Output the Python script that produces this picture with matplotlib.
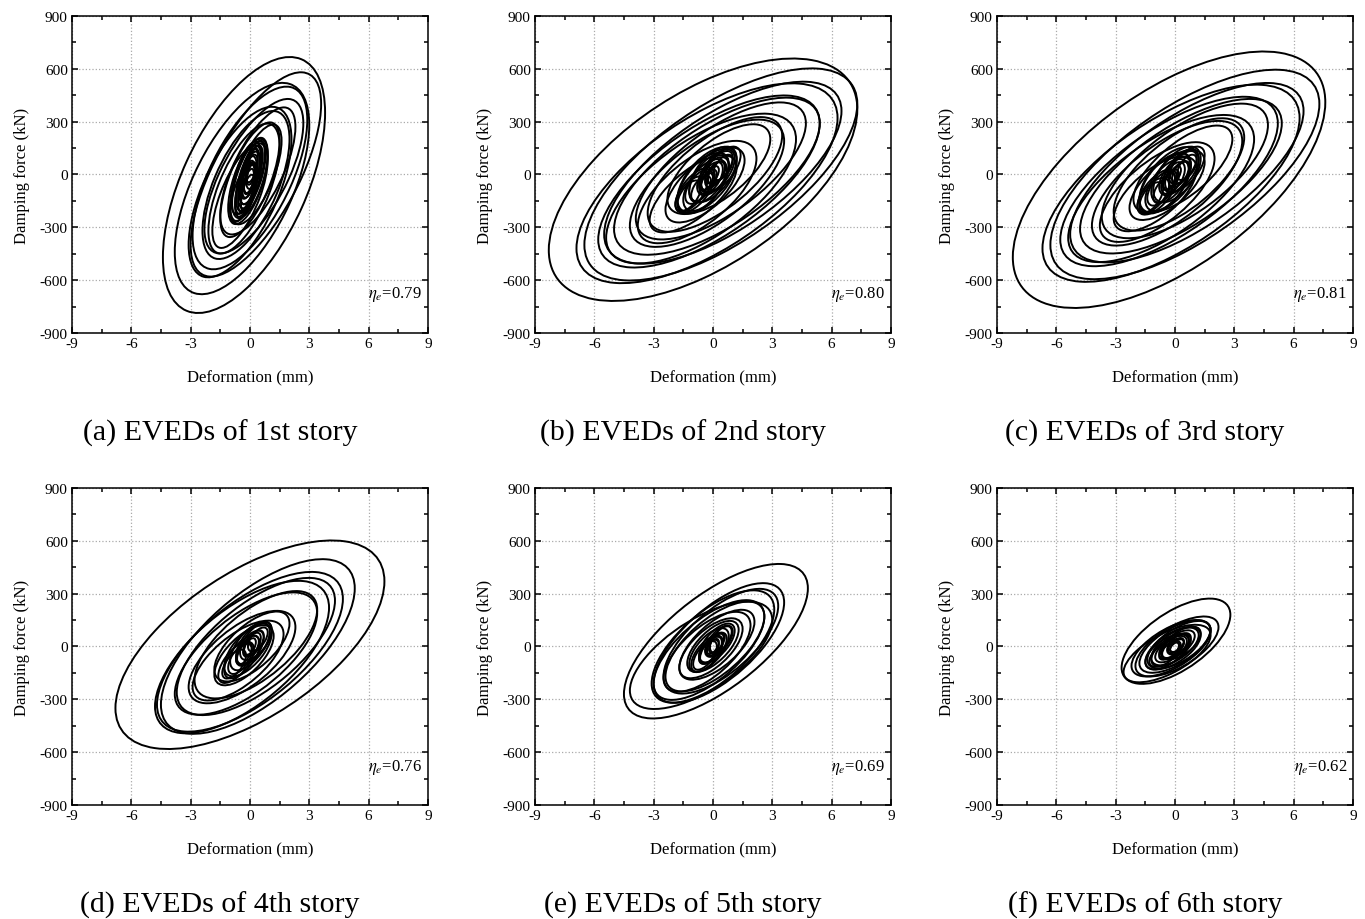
import matplotlib
matplotlib.use('Agg')
import matplotlib.pyplot as plt
from matplotlib.patches import Circle
from matplotlib.transforms import Affine2D
from matplotlib.ticker import MultipleLocator

plt.rcParams['font.family'] = ['Liberation Serif', 'DejaVu Serif']
plt.rcParams['mathtext.fontset'] = 'stix'
plt.rcParams['axes.unicode_minus'] = False

# one entry per hysteresis loop:
# (centre deformation, centre force, deformation amplitude,
#  force at peak deformation, force at zero deformation)
loops_1st = [
    (-0.3, -60, 4.1, 410, 600), (0.3, 0, 3.3, 400, 420), (-0.4, -80, 3.4, 360, 480),
    (0.0, -20, 2.9, 330, 400), (-0.5, -100, 2.6, 300, 380), (0.2, -10, 2.5, 300, 320),
    (-0.2, -60, 2.2, 260, 330), (0.4, 20, 1.9, 250, 260), (-0.3, -80, 1.8, 240, 280),
    (0.0, -30, 1.5, 220, 240), (-0.5, -120, 1.4, 200, 220), (0.3, 0, 1.3, 190, 210),
    (-0.1, -40, 1.0, 150, 190), (0.0, -20, 0.9, 140, 180), (-0.2, -50, 0.8, 130, 170),
    (0.1, 0, 0.7, 120, 150), (-0.1, -30, 0.6, 110, 140), (0.0, -20, 0.5, 90, 120),
    (-0.2, -60, 0.55, 100, 130), (0.1, 10, 0.65, 110, 140), (0.0, -10, 0.4, 70, 100),
    (-0.1, -30, 0.35, 60, 90), (0.0, -20, 0.3, 50, 70), (-0.05, -40, 0.25, 40, 60),
    (0.05, 0, 0.2, 30, 50), (-0.15, -80, 0.45, 80, 110), (0.15, 30, 0.5, 80, 110),
    (-0.3, -100, 0.7, 110, 130), (-0.25, -90, 0.5, 90, 120), (0.2, 40, 0.4, 70, 100),
    (-0.1, -110, 0.35, 60, 90), (0.1, 50, 0.3, 50, 80), (-0.2, -20, 0.75, 130, 160),
]
loops_2nd = [
    (-0.5, -30, 7.8, 400, 560), (0.4, 0, 6.9, 400, 450), (-0.3, -50, 6.6, 370, 430),
    (0.5, 10, 6.0, 350, 380), (-0.2, -40, 5.6, 330, 360), (0.2, -10, 5.2, 300, 330),
    (-0.6, -80, 4.8, 280, 320), (0.4, 20, 4.3, 270, 280), (-0.3, -50, 3.9, 240, 270),
    (0.1, 0, 3.4, 220, 240), (-0.8, -100, 3.0, 190, 220), (0.3, 30, 2.6, 170, 190),
    (-1.0, -110, 2.2, 150, 160), (-0.4, -60, 2.0, 140, 160),
    (-0.3, -30, 1.5, 110, 150), (-0.5, -50, 1.3, 100, 140), (0.0, 0, 1.2, 90, 130),
    (-0.2, -20, 1.0, 80, 115), (0.2, 20, 0.9, 70, 100), (-0.4, -60, 1.1, 85, 120),
    (0.0, -10, 0.8, 60, 90), (-0.1, -20, 0.6, 50, 75), (0.1, 0, 0.5, 40, 60),
    (-0.2, -30, 0.4, 30, 50), (-0.9, -90, 1.0, 80, 100), (0.4, 30, 1.0, 80, 100),
    (-1.1, -110, 0.8, 60, 80), (0.3, 40, 0.7, 55, 75), (0.0, 0, 0.3, 25, 40),
    (-0.7, -70, 0.7, 55, 80), (-0.6, -80, 0.5, 40, 60), (0.2, 10, 0.45, 35, 55),
    (-0.3, -40, 0.3, 25, 40), (-1.2, -120, 0.6, 50, 70), (0.5, 40, 0.5, 40, 60),
]
loops_3rd = [
    (-0.3, -30, 7.9, 440, 580), (0.5, 0, 6.8, 400, 440), (-0.2, -50, 6.5, 370, 420),
    (0.6, 10, 5.9, 350, 370), (-0.3, -40, 5.5, 330, 350), (0.3, -10, 5.1, 300, 320),
    (-0.7, -80, 4.7, 280, 310), (0.5, 20, 4.2, 260, 280), (-0.4, -50, 3.8, 240, 260),
    (0.2, 0, 3.3, 210, 240), (-0.9, -100, 2.9, 190, 210), (0.4, 30, 2.5, 170, 180),
    (-1.0, -110, 2.1, 140, 160), (-0.4, -60, 1.9, 130, 150),
    (-0.3, -30, 1.5, 110, 150), (-0.5, -50, 1.3, 100, 140), (0.1, 0, 1.2, 90, 130),
    (-0.2, -20, 1.0, 80, 115), (0.3, 20, 0.9, 70, 100), (-0.4, -60, 1.1, 85, 120),
    (0.0, -10, 0.8, 60, 90), (-0.1, -20, 0.6, 50, 75), (0.2, 0, 0.5, 40, 60),
    (-0.2, -30, 0.4, 30, 50), (-0.9, -100, 1.0, 80, 100), (0.5, 30, 1.0, 80, 100),
    (-1.1, -120, 0.8, 60, 80), (0.4, 40, 0.7, 55, 75), (0.0, 0, 0.3, 25, 40),
    (-0.7, -80, 0.7, 55, 80), (-0.6, -90, 0.5, 40, 60), (0.3, 10, 0.45, 35, 55),
    (-0.3, -40, 0.3, 25, 40), (-1.2, -130, 0.6, 50, 70), (0.6, 40, 0.5, 40, 60),
]
loops_4th = [
    (0.0, 10, 6.8, 360, 470), (0.4, 0, 4.9, 330, 370), (0.0, -30, 4.7, 300, 340),
    (-0.4, -60, 4.4, 280, 330), (0.3, 0, 4.0, 260, 290), (-0.2, -40, 3.6, 230, 260),
    (0.3, 10, 3.1, 200, 230), (-0.4, -60, 2.7, 170, 200), (-0.6, -80, 2.3, 150, 170),
    (0.1, 0, 1.9, 130, 150), (-0.3, -50, 1.5, 110, 130), (-0.1, -20, 1.2, 95, 115),
    (0.0, 0, 1.0, 85, 105), (0.2, 20, 0.9, 75, 95), (-0.4, -60, 0.9, 75, 95),
    (0.0, -10, 0.7, 60, 80), (-0.1, -20, 0.55, 50, 65), (0.1, 10, 0.45, 40, 55),
    (-0.7, -90, 0.9, 75, 90), (0.3, 30, 0.8, 65, 85), (0.0, 0, 0.3, 25, 40),
    (-0.5, -70, 0.6, 50, 70), (0.2, 20, 0.5, 40, 60), (-0.3, -40, 0.4, 35, 50),
    (-0.8, -100, 0.6, 50, 65), (0.4, 40, 0.5, 40, 55),
]
loops_5th = [
    (0.15, 30, 4.65, 300, 320), (0.3, 20, 3.3, 230, 250), (0.0, 0, 3.1, 210, 240),
    (0.4, 30, 2.9, 200, 220), (-0.2, -20, 2.8, 190, 210), (0.1, 0, 2.5, 170, 190),
    (-0.3, -30, 2.2, 150, 170), (0.2, 10, 1.9, 130, 150), (-0.1, -10, 1.6, 110, 130),
    (-0.6, -50, 3.6, 200, 230), (0.0, 0, 1.3, 95, 110), (-0.2, -20, 1.0, 80, 95),
    (0.2, 20, 0.9, 70, 85), (0.0, -10, 0.7, 55, 70), (-0.1, -20, 0.55, 45, 60),
    (0.1, 10, 0.45, 38, 50), (-0.3, -40, 0.8, 65, 80), (0.3, 30, 0.7, 55, 70),
    (0.0, 0, 0.3, 25, 35), (-0.2, -30, 0.5, 40, 55), (0.2, 20, 0.4, 35, 45),
    (-0.4, -50, 0.6, 50, 65), (0.4, 40, 0.55, 45, 60),
]
loops_6th = [
    (0.05, 30, 2.75, 150, 190), (0.1, 0, 2.1, 110, 130), (-0.2, -10, 2.0, 100, 125),
    (0.0, 0, 1.8, 95, 115), (-0.4, -40, 2.2, 105, 125), (0.2, 10, 1.6, 85, 105),
    (-0.1, -10, 1.4, 75, 95), (0.0, 0, 1.2, 65, 85), (-0.2, -20, 1.0, 55, 75),
    (0.1, 10, 0.9, 50, 65), (0.0, 0, 0.7, 40, 55), (-0.1, -10, 0.55, 32, 45),
    (0.05, 5, 0.4, 25, 35), (-0.4, -30, 1.1, 60, 80), (0.3, 20, 1.0, 55, 75),
    (0.0, -5, 0.25, 15, 25), (-0.2, -15, 0.8, 45, 60), (0.2, 15, 0.6, 35, 50),
    (-0.3, -25, 0.5, 30, 40), (0.1, 5, 0.35, 20, 30), (-0.5, -40, 0.8, 45, 60),
]

all_loops = [loops_1st, loops_2nd, loops_3rd, loops_4th, loops_5th, loops_6th]
titles = ['(a) EVEDs of 1st story', '(b) EVEDs of 2nd story', '(c) EVEDs of 3rd story',
          '(d) EVEDs of 4th story', '(e) EVEDs of 5th story', '(f) EVEDs of 6th story']
eta = ['0.79', '0.80', '0.81', '0.76', '0.69', '0.62']

fig = plt.figure(figsize=(13.65, 9.2), dpi=100)

lefts = [0.0527, 0.3919, 0.7304]
bottoms = [0.637, 0.1239]
title_x = [0.1612, 0.5004, 0.8388]
title_y = [0.529, 0.016]

for i, loops in enumerate(all_loops):
    row, col = divmod(i, 3)
    ax = fig.add_axes([lefts[col], bottoms[row], 0.2608, 0.3446])
    for cx, cy, u0, fa, fb in loops:
        tr = Affine2D.from_values(u0, fa, 0, fb, cx, cy) + ax.transData
        ax.add_patch(Circle((0, 0), 1, fill=False, ec='black', lw=1.4, transform=tr))
    ax.set_xlim(-9, 9)
    ax.set_ylim(-900, 900)
    ax.xaxis.set_major_locator(MultipleLocator(3))
    ax.xaxis.set_minor_locator(MultipleLocator(1.5))
    ax.yaxis.set_major_locator(MultipleLocator(300))
    ax.yaxis.set_minor_locator(MultipleLocator(150))
    ax.tick_params(which='both', direction='in', top=True, right=True,
                   labelsize=11, width=1.1, pad=3)
    ax.tick_params(which='major', length=4.5)
    ax.tick_params(which='minor', length=3)
    for sp in ax.spines.values():
        sp.set_linewidth(1.1)
    ax.grid(True, which='major', color='#aaaaaa', ls=':', lw=0.9)
    ax.set_axisbelow(True)
    ax.set_xlabel('Deformation (mm)', fontsize=12, labelpad=14)
    ax.set_ylabel('Damping force (kN)', fontsize=12, labelpad=7)
    ax.text(0.983, 0.123, r'$\eta_e$=' + eta[i], transform=ax.transAxes,
            ha='right', va='center', fontsize=12)
    fig.text(title_x[col], title_y[row], titles[i], ha='center', va='center', fontsize=21.5)

fig.savefig('out.png', dpi=100)
